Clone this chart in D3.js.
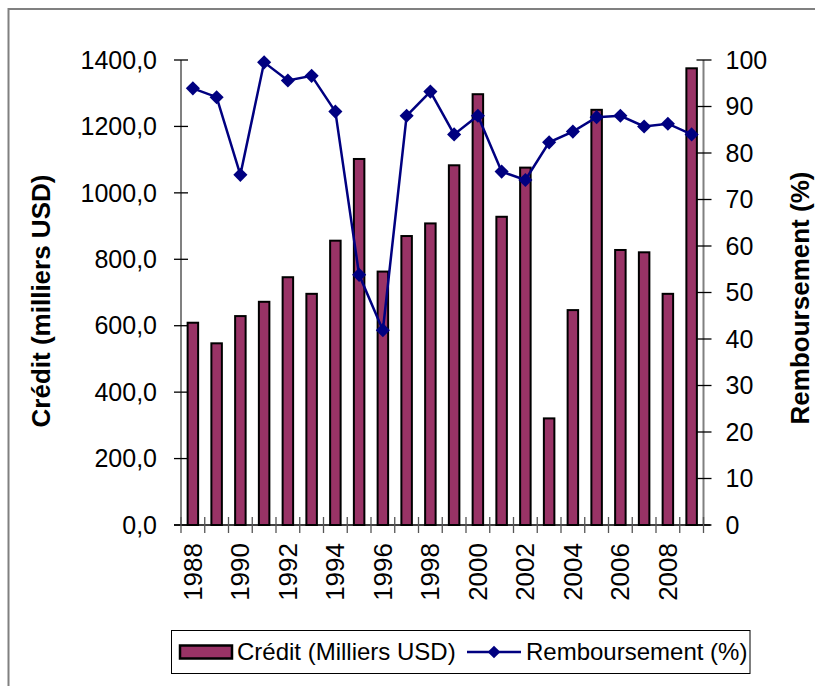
<!DOCTYPE html>
<html><head><meta charset="utf-8">
<script src="https://cdn.jsdelivr.net/npm/d3@7"></script>
<style>body{margin:0;background:#fff}svg{display:block}</style>
</head><body><svg id="c" width="815" height="686"></svg>
<script>
const years = [1988,1989,1990,1991,1992,1993,1994,1995,1996,1997,1998,1999,2000,2001,2002,2003,2004,2005,2006,2007,2008,2009];
const credit = [609,547,629,672,746,696,856,1102,763,870,908,1083,1297,928,1076,321,647,1250,828,821,696,1375];
const rembours = [93.9,92.0,75.3,99.5,95.6,96.6,88.9,53.8,41.9,88.0,93.2,84.0,88.0,76.0,74.2,82.3,84.6,87.7,88.0,85.7,86.3,84.0];
const leftTicks = [0,200,400,600,800,1000,1200,1400];
const rightTicks = [0,10,20,30,40,50,60,70,80,90,100];
const labelYears = [1988,1990,1992,1994,1996,1998,2000,2002,2004,2006,2008];

const svg = d3.select("#c");
const FONT = "'Liberation Sans', Arial, sans-serif";
const L = 181, R = 703.5, T = 60, B = 525;

svg.append("rect").attr("x",8.5).attr("y",9).attr("width",820).attr("height",690)
  .attr("fill","none").attr("stroke","#808080").attr("stroke-width",2);

const x = d3.scaleBand().domain(years).range([L,R]).paddingInner(0).paddingOuter(0);
const yL = d3.scaleLinear().domain([0,1400]).range([B,T]);
const yR = d3.scaleLinear().domain([0,100]).range([B,T]);
const bw = 10.5;

// bars
svg.append("g").selectAll("rect").data(years).join("rect")
  .attr("x", (d)=> x(d)+x.bandwidth()/2-bw/2)
  .attr("y", (d,i)=> yL(credit[i]))
  .attr("width", bw)
  .attr("height", (d,i)=> B - yL(credit[i]))
  .attr("fill","#993366").attr("stroke","#000").attr("stroke-width",2);

// left axis
const gl = svg.append("g");
gl.append("line").attr("x1",L).attr("x2",L).attr("y1",T).attr("y2",B).attr("stroke","#808080").attr("stroke-width",2);
gl.selectAll("line.t").data(leftTicks).join("line").attr("class","t")
  .attr("x1",L-7).attr("x2",L+7).attr("y1",d=>yL(d)).attr("y2",d=>yL(d)).attr("stroke","#000").attr("stroke-width",1.3);
gl.selectAll("text").data(leftTicks).join("text")
  .attr("x",L-24).attr("y",d=>yL(d)).attr("dy","0.35em").attr("text-anchor","end")
  .attr("font-family",FONT).attr("font-size",25).attr("fill","#000")
  .text(d=>d3.format(".1f")(d).replace(".",","));

// right axis
const gr = svg.append("g");
gr.append("line").attr("x1",R).attr("x2",R).attr("y1",T).attr("y2",B).attr("stroke","#808080").attr("stroke-width",2);
gr.selectAll("line.t").data(rightTicks).join("line").attr("class","t")
  .attr("x1",R-7).attr("x2",R+8).attr("y1",d=>yR(d)).attr("y2",d=>yR(d)).attr("stroke","#000").attr("stroke-width",1.3);
gr.selectAll("text").data(rightTicks).join("text")
  .attr("x",R+22).attr("y",d=>yR(d)).attr("dy","0.35em").attr("text-anchor","start")
  .attr("font-family",FONT).attr("font-size",25).attr("fill","#000")
  .text(d=>d);

// x axis
const gx = svg.append("g");
gx.append("line").attr("x1",L-7).attr("x2",R+7).attr("y1",B).attr("y2",B).attr("stroke","#000").attr("stroke-width",1.5);
const bounds = years.map(d=>x(d)).concat([R]);
gx.selectAll("line.t").data(bounds).join("line").attr("class","t")
  .attr("x1",d=>d).attr("x2",d=>d).attr("y1",B-8).attr("y2",B+8).attr("stroke","#555").attr("stroke-width",1.3);
gx.selectAll("text").data(labelYears).join("text")
  .attr("transform",d=>`translate(${x(d)+x.bandwidth()/2},${B+18}) rotate(-90)`)
  .attr("dy","0.35em").attr("text-anchor","end")
  .attr("font-family",FONT).attr("font-size",26).attr("fill","#000")
  .text(d=>d);

// line
const line = d3.line().x((d,i)=>x(years[i])+x.bandwidth()/2).y(d=>yR(d));
svg.append("path").datum(rembours).attr("d",line).attr("fill","none").attr("stroke","#000080").attr("stroke-width",2.5);
const diamond = d3.symbol().type(d3.symbolDiamond2).size(150);
svg.append("g").selectAll("path").data(rembours).join("path")
  .attr("transform",(d,i)=>`translate(${x(years[i])+x.bandwidth()/2},${yR(d)}) rotate(45)`)
  .attr("d", d3.symbol().type(d3.symbolSquare).size(100))
  .attr("fill","#000080");

// axis titles
svg.append("text").attr("transform",`translate(41,301) rotate(-90)`).attr("text-anchor","middle").attr("dy","0.35em")
  .attr("font-family",FONT).attr("font-weight","bold").attr("font-size",26).text("Crédit (milliers USD)");
svg.append("text").attr("transform",`translate(800,298) rotate(-90)`).attr("text-anchor","middle").attr("dy","0.35em")
  .attr("font-family",FONT).attr("font-weight","bold").attr("font-size",26).text("Remboursement (%)");

// legend
const lg = svg.append("g");
lg.append("rect").attr("x",171.5).attr("y",630.5).attr("width",578.5).attr("height",43).attr("fill","#fff").attr("stroke","#000").attr("stroke-width",1);
lg.append("rect").attr("x",180).attr("y",645.5).attr("width",52).attr("height",13).attr("fill","#993366").attr("stroke","#000").attr("stroke-width",2.5);
lg.append("text").attr("x",237).attr("y",652).attr("dy","0.35em").attr("font-family",FONT).attr("font-size",24).text("Crédit (Milliers USD)");
lg.append("line").attr("x1",467).attr("x2",521).attr("y1",652).attr("y2",652).attr("stroke","#000080").attr("stroke-width",2.5);
lg.append("path").attr("transform","translate(494,652) rotate(45)").attr("d",d3.symbol().type(d3.symbolSquare).size(80)).attr("fill","#000080");
lg.append("text").attr("x",526).attr("y",652).attr("dy","0.35em").attr("font-family",FONT).attr("font-size",24).text("Remboursement (%)");
</script></body></html>
